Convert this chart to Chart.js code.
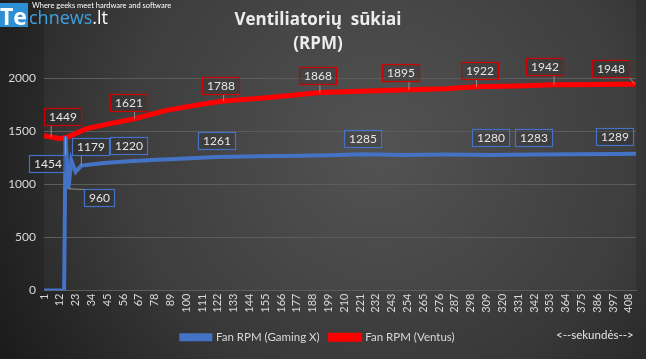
<!DOCTYPE html>
<html lang="lt">
<head>
<meta charset="UTF-8">
<title>Ventiliatorių sūkiai (RPM)</title>
<script src="https://cdn.jsdelivr.net/npm/chart.js@4.4.1/dist/chart.umd.min.js"></script>
<style>
  html, body { margin: 0; padding: 0; background: #2b2b2b; }
  #wrap { width: 646px; height: 359px; }
</style>
</head>
<body>
<div id="wrap"><canvas id="grafikas"></canvas></div>
<script>
// sekundės ir RPM, nuskaityta nuo paveikslėlio
const blueSec = [1, 15, 16, 18, 20, 23, 27, 35, 45, 60, 80, 100, 121, 150, 180, 200, 223, 250, 280, 312, 342, 370, 398, 413];
const blueRpm = [0, 0, 1454, 960, 1229, 1120, 1179, 1192, 1205, 1220, 1235, 1247, 1261, 1266, 1272, 1277, 1285, 1280, 1283, 1280, 1283, 1286, 1289, 1290];

const redSec = [1, 6, 12, 18, 30, 47, 64, 86, 114, 126, 156, 193, 226, 255, 280, 302, 330, 356, 385, 412, 413];
const redRpm = [1462, 1449, 1432, 1450, 1525, 1575, 1621, 1700, 1765, 1788, 1820, 1868, 1882, 1895, 1905, 1922, 1930, 1942, 1944, 1948, 1938];

const tickSecs = [1, 12, 23, 34, 45, 56, 67, 78, 89, 100, 111, 122, 133, 144, 155, 166, 177, 188, 199,
  210, 221, 232, 243, 254, 265, 276, 287, 298, 309, 320, 331, 342, 353, 364, 375, 386, 397, 408];

const seriesNames = ['Fan RPM (Gaming X)', 'Fan RPM (Ventus)'];

// pažymėtos reikšmės: [sekundė, dx, dy, ar rodyti liniją]
const blueNotes = [[16, -18, 27, 1], [18, 31, 9, 1], [27, 9, -19, 1], [60, 0, -16, 0], [121, 0, -16, 0],
  [223, 0, -16, 0], [312, 0, -17, 0], [342, 0, -17, 0], [398, 0, -17, 0]];
const redNotes = [[6, 11, -20, 1], [64, -6, -16, 1], [126, -3, -16, 1], [193, -2, -17, 1], [255, -8, -17, 1],
  [302, 3, -16, 1], [356, -10, -18, 1], [412, -24, -16, 1]];

const FONT = 'Lato, "Open Sans", sans-serif';

const fone = {
  id: 'fone',
  beforeDraw(chart) {
    const c = chart.ctx, w = chart.width, h = chart.height;
    c.save();
    const g = c.createRadialGradient(380, 150, 20, 380, 150, 430);
    g.addColorStop(0, '#4b4b4b');
    g.addColorStop(0.55, '#383838');
    g.addColorStop(1, '#1b1b1b');
    c.fillStyle = g;
    c.fillRect(0, 0, w, h);
    const a = chart.chartArea;
    c.fillStyle = 'rgba(255,255,255,0.035)';
    c.fillRect(a.left, 0, a.right - a.left, a.bottom);
    c.restore();
  },
  afterDraw(chart) {
    const c = chart.ctx;
    c.save();
    // logotipas
    c.fillStyle = '#2f8fd5';
    c.fillRect(0, 3, 28, 24);
    c.textBaseline = 'alphabetic';
    c.fillStyle = '#ffffff';
    c.font = 'bold 23px "Open Sans", sans-serif';
    c.fillText('Te', 0, 25);
    c.fillStyle = '#3da2e3';
    c.font = '18px "Open Sans", sans-serif';
    c.fillText('chnews', 29, 24);
    let x = 29 + c.measureText('chnews').width;
    c.fillStyle = '#ffffff';
    c.fillText('.lt', x, 24);
    c.font = '7.5px ' + FONT;
    c.fillText('Where geeks meet hardware and software', 32, 8);
    // ašies užrašas
    c.fillStyle = '#e6e6e6';
    c.font = '11.5px ' + FONT;
    c.textBaseline = 'middle';
    c.fillText('<--sekundės-->', 556, 335);
    c.restore();
  }
};

const zymes = {
  id: 'zymes',
  afterDatasetsDraw(chart) {
    const c = chart.ctx;
    const sets = [[blueSec, blueNotes, '#4472c4'], [redSec, redNotes, '#d00000']];
    c.save();
    c.font = '12px ' + FONT;
    c.textAlign = 'center';
    c.textBaseline = 'middle';
    sets.forEach(([secs, notes, col], di) => {
      const meta = chart.getDatasetMeta(di);
      const vals = chart.data.datasets[di].data;
      notes.forEach(([s, dx, dy, lead]) => {
        const i = secs.indexOf(s);
        const p = meta.data[i];
        const txt = String(vals[i].y);
        const bw = Math.round(c.measureText(txt).width + 9), bh = 17;
        const bx = Math.round(p.x + dx - bw / 2) + 0.5, by = Math.round(p.y + dy - bh / 2) + 0.5;
        if (lead) {
          const ex = Math.max(bx, Math.min(p.x, bx + bw));
          const ey = Math.max(by, Math.min(p.y, by + bh));
          c.strokeStyle = '#a6a6a6';
          c.lineWidth = 0.8;
          c.beginPath();
          c.moveTo(ex, ey);
          c.lineTo(p.x, p.y);
          c.stroke();
        }
        c.fillStyle = 'rgba(30,30,30,0.15)';
        c.fillRect(bx, by, bw, bh);
        c.strokeStyle = col;
        c.lineWidth = 1.2;
        c.strokeRect(bx, by, bw, bh);
        c.fillStyle = '#e6e6e6';
        c.fillText(txt, bx + bw / 2, by + bh / 2 + 0.5);
      });
    });
    c.restore();
  }
};

new Chart(document.getElementById('grafikas'), {
  type: 'line',
  data: {
    datasets: [{
      label: seriesNames[0],
      data: blueSec.map((s, i) => ({ x: s, y: blueRpm[i] })),
      borderColor: '#4472c4',
      backgroundColor: '#4472c4',
      borderWidth: 4,
      pointRadius: 0,
      tension: 0
    }, {
      label: seriesNames[1],
      data: redSec.map((s, i) => ({ x: s, y: redRpm[i] })),
      borderColor: '#ff0000',
      backgroundColor: '#ff0000',
      borderWidth: 5,
      pointRadius: 0,
      tension: 0
    }]
  },
  options: {
    responsive: true,
    maintainAspectRatio: false,
    animation: false,
    layout: { padding: { left: 0, right: 10, top: 0, bottom: 6 } },
    scales: {
      x: {
        type: 'linear',
        min: 1,
        max: 413,
        afterBuildTicks(scale) { scale.ticks = tickSecs.map(v => ({ value: v })); },
        afterFit(scale) { scale.height = 30; },
        grid: { display: false, drawTicks: false },
        border: { color: '#5c5c5c' },
        ticks: {
          autoSkip: false,
          minRotation: 90,
          maxRotation: 90,
          padding: 3,
          color: '#d9d9d9',
          font: { size: 11, family: FONT }
        }
      },
      y: {
        min: 0,
        max: 2000,
        afterFit(scale) { scale.width = 44; },
        grid: { color: '#5c5c5c', drawTicks: false },
        border: { display: false },
        ticks: {
          stepSize: 500,
          padding: 8,
          color: '#d9d9d9',
          font: { size: 12, family: FONT },
          callback: v => String(v)
        }
      }
    },
    plugins: {
      title: {
        display: true,
        text: ['Ventiliatorių  sūkiai', '(RPM)'],
        color: '#ececec',
        font: { size: 17, weight: 'bold', family: '"Open Sans", sans-serif', lineHeight: 1.4 },
        padding: { top: 8, bottom: 23 }
      },
      legend: {
        position: 'bottom',
        labels: {
          boxWidth: 29,
          boxHeight: 4,
          color: '#d9d9d9',
          padding: 11,
          font: { size: 11.5, family: FONT }
        }
      },
      tooltip: { enabled: false }
    }
  },
  plugins: [fone, zymes]
});
</script>
</body>
</html>
